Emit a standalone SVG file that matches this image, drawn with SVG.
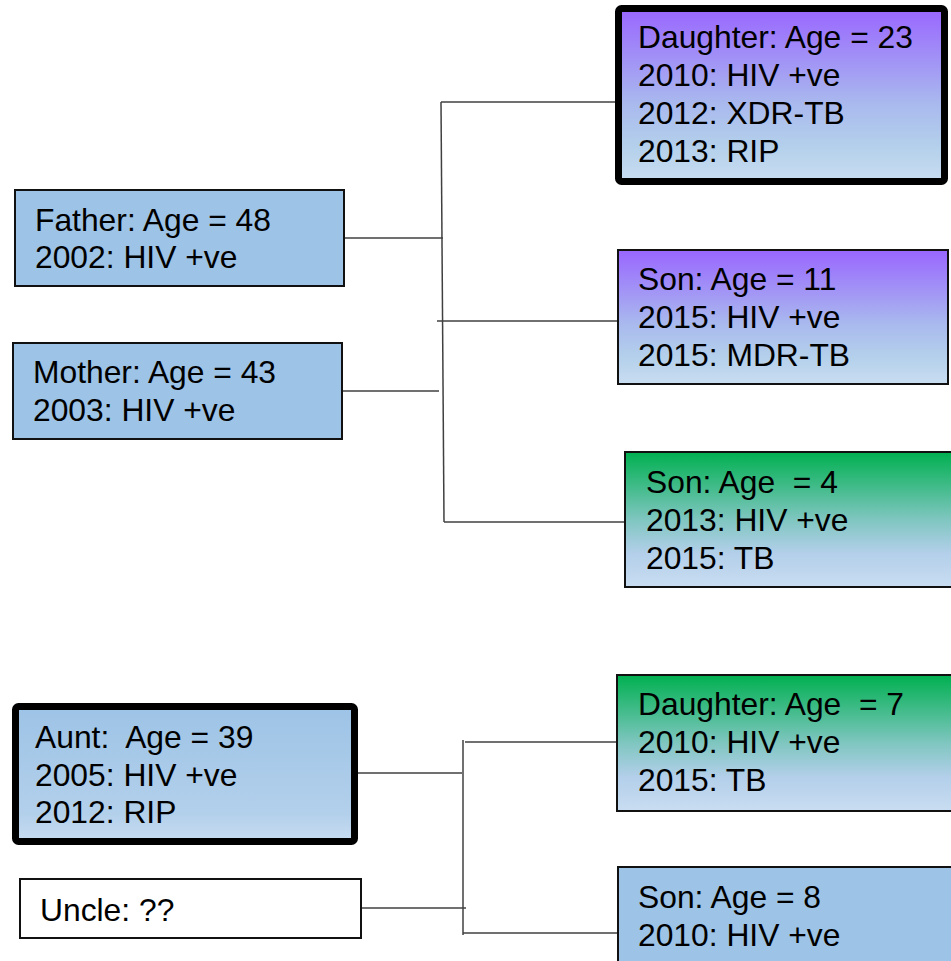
<svg xmlns="http://www.w3.org/2000/svg" width="951" height="961" viewBox="0 0 951 961">
<defs>
<linearGradient id="gPurple" x1="0" y1="0" x2="0" y2="1">
<stop offset="0" stop-color="#9966FF"/>
<stop offset="0.55" stop-color="#A9B9EE"/>
<stop offset="0.8" stop-color="#B4D0EB"/>
<stop offset="1" stop-color="#C9DDF1"/>
</linearGradient>
<linearGradient id="gGreen" x1="0" y1="0" x2="0" y2="1">
<stop offset="0" stop-color="#00B050"/>
<stop offset="0.5" stop-color="#7FC6C0"/>
<stop offset="0.75" stop-color="#B3CFEA"/>
<stop offset="1" stop-color="#C9DDF1"/>
</linearGradient>
<linearGradient id="gBlue" x1="0" y1="0" x2="0" y2="1">
<stop offset="0" stop-color="#9DC3E6"/>
<stop offset="0.8" stop-color="#B3D0EB"/>
<stop offset="1" stop-color="#C9DDF1"/>
</linearGradient>
</defs>
<style>
text{font-family:"Liberation Sans",Arial,sans-serif;font-size:31.8px;fill:#000;white-space:pre}
.box{stroke:#111;stroke-width:2}
.thick{stroke:#000;stroke-width:7}
.solid{fill:#9DC3E6}
#connectors line{stroke:#404040;stroke-width:1.5}
</style>
<g id="connectors">
<line x1="441" y1="102" x2="444" y2="522"/>
<line x1="441" y1="102" x2="616" y2="102"/>
<line x1="344" y1="238" x2="443" y2="238"/>
<line x1="437" y1="321" x2="618" y2="321"/>
<line x1="342" y1="391" x2="439" y2="391"/>
<line x1="444" y1="522" x2="625" y2="522"/>
<line x1="463" y1="740" x2="463" y2="935"/>
<line x1="465" y1="742" x2="617" y2="742"/>
<line x1="358" y1="773" x2="462" y2="773"/>
<line x1="361" y1="908" x2="466" y2="908"/>
<line x1="463" y1="933" x2="618" y2="933"/>
</g>
<g id="daughter23">
<rect class="thick" x="618.5" y="8.5" width="326" height="173" rx="3" fill="url(#gPurple)"/>
<text x="638" y="48">Daughter: Age = 23</text>
<text x="638" y="86">2010: HIV +ve</text>
<text x="638" y="124">2012: XDR-TB</text>
<text x="638" y="162">2013: RIP</text>
</g>
<g id="father">
<rect class="box solid" x="15" y="190" width="329" height="96"/>
<text x="35" y="231">Father: Age = 48</text>
<text x="35" y="268">2002: HIV +ve</text>
</g>
<g id="mother">
<rect class="box solid" x="13" y="343" width="329" height="96"/>
<text x="33" y="383">Mother: Age = 43</text>
<text x="33" y="421">2003: HIV +ve</text>
</g>
<g id="son11">
<rect class="box" x="618" y="250" width="330" height="134" fill="url(#gPurple)"/>
<text x="638" y="290">Son: Age = 11</text>
<text x="638" y="328">2015: HIV +ve</text>
<text x="638" y="366">2015: MDR-TB</text>
</g>
<g id="son4">
<rect class="box" x="625" y="452" width="330" height="135" fill="url(#gGreen)"/>
<text x="646" y="493">Son: Age  = 4</text>
<text x="646" y="531">2013: HIV +ve</text>
<text x="646" y="569">2015: TB</text>
</g>
<g id="aunt">
<rect class="thick" x="15.5" y="706.5" width="339" height="135" rx="3" fill="url(#gBlue)"/>
<text x="35" y="748">Aunt:  Age = 39</text>
<text x="35" y="786">2005: HIV +ve</text>
<text x="35" y="823">2012: RIP</text>
</g>
<g id="uncle">
<rect class="box" x="20" y="879" width="341" height="59" fill="#FFFFFF"/>
<text x="40" y="921">Uncle: ??</text>
</g>
<g id="daughter7">
<rect class="box" x="617" y="675" width="340" height="136" fill="url(#gGreen)"/>
<text x="638" y="715">Daughter: Age  = 7</text>
<text x="638" y="753">2010: HIV +ve</text>
<text x="638" y="791">2015: TB</text>
</g>
<g id="son8">
<rect class="box solid" x="618" y="867" width="340" height="110"/>
<text x="638" y="908">Son: Age = 8</text>
<text x="638" y="946">2010: HIV +ve</text>
</g>
</svg>
